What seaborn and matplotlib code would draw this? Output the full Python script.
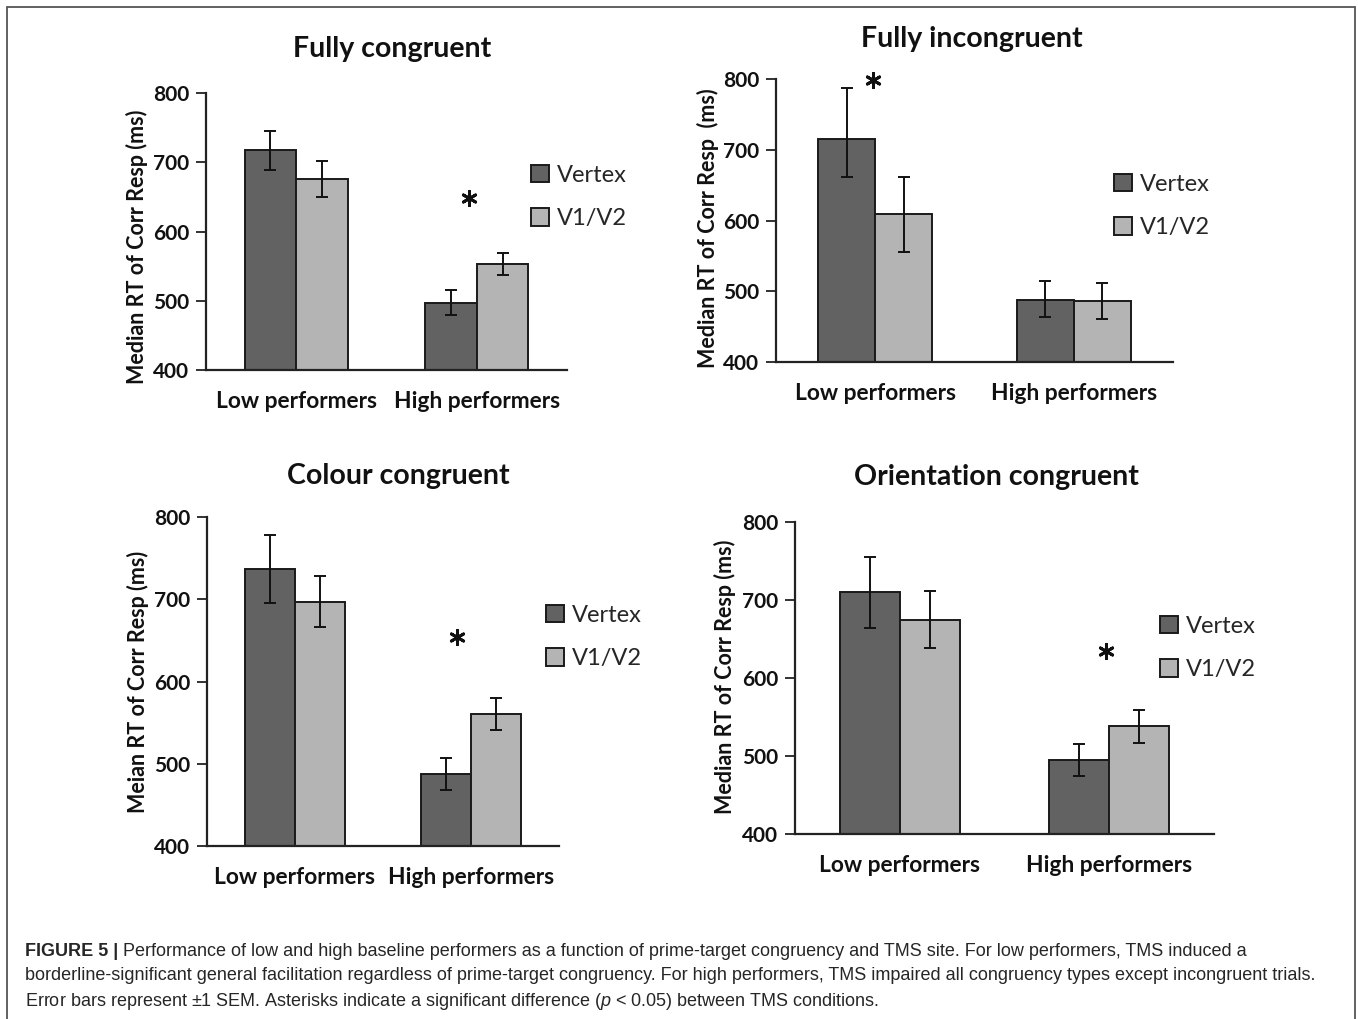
import matplotlib
matplotlib.use("Agg")
import matplotlib.pyplot as plt
import pandas as pd
import seaborn as sns
from matplotlib.patches import Rectangle

# ---- data -------------------------------------------------------------
groups = ["Low performers", "High performers"]
sites = ["Vertex", "V1/V2"]

titles = ["Fully congruent", "Fully incongruent",
          "Colour congruent", "Orientation congruent"]
ylabels = ["Median RT of Corr Resp (ms)", "Median RT of Corr Resp  (ms)",
           "Meian RT of Corr Resp (ms)", "Median RT of Corr Resp (ms)"]

# Fully congruent
fc_vertex = [717, 497]
fc_v1v2 = [676, 553]
fc_vertex_lo, fc_vertex_hi = [27.5, 18], [27.5, 18]
fc_v1v2_lo, fc_v1v2_hi = [26.5, 16.5], [26.5, 16.5]

# Fully incongruent
fi_vertex = [715, 488]
fi_v1v2 = [609, 486]
fi_vertex_lo, fi_vertex_hi = [53, 24], [72, 26]
fi_v1v2_lo, fi_v1v2_hi = [54, 25], [53, 25]

# Colour congruent
cc_vertex = [737, 487]
cc_v1v2 = [697, 560]
cc_vertex_lo, cc_vertex_hi = [41, 19.5], [41, 19.5]
cc_v1v2_lo, cc_v1v2_hi = [31, 19.5], [31, 19.5]

# Orientation congruent
oc_vertex = [710, 495]
oc_v1v2 = [675, 538]
oc_vertex_lo, oc_vertex_hi = [45.5, 21], [45.5, 21]
oc_v1v2_lo, oc_v1v2_hi = [37, 21], [37, 21]

# significance markers: group index and height (ms)
star_group = [1, 0, 1, 1]
star_rt = [648, 798, 654, 635]

yticks = [400, 500, 600, 700, 800]

caption_head = "FIGURE 5 |"
caption_lines = [
    " Performance of low and high baseline performers as a function of prime-target congruency and TMS site. For low performers, TMS induced a",
    "borderline-significant general facilitation regardless of prime-target congruency. For high performers, TMS impaired all congruency types except incongruent trials.",
    "Error bars represent \u00b11 SEM. Asterisks indicate a significant difference ($p$ < 0.05) between TMS conditions.",
]

panels = [
    (fc_vertex, fc_v1v2, fc_vertex_lo, fc_vertex_hi, fc_v1v2_lo, fc_v1v2_hi),
    (fi_vertex, fi_v1v2, fi_vertex_lo, fi_vertex_hi, fi_v1v2_lo, fi_v1v2_hi),
    (cc_vertex, cc_v1v2, cc_vertex_lo, cc_vertex_hi, cc_v1v2_lo, cc_v1v2_hi),
    (oc_vertex, oc_v1v2, oc_vertex_lo, oc_vertex_hi, oc_v1v2_lo, oc_v1v2_hi),
]

# ---- layout (pixels) --------------------------------------------------
W, H = 1358, 1019
axes_px = [(206, 93, 567, 370), (776, 79, 1173, 362),
           (207, 517, 559, 846), (795, 522, 1214, 834)]
title_px = [(392, 49), (972, 39), (398, 476), (996, 477)]
ylabel_px = [(137, 247), (708, 228), (138, 682), (725, 677)]
legend_px = [(531, 197), (1114, 206), (546, 637), (1160, 648)]
star_nudge = [-0.045, -0.01, -0.08, -0.015]

colors = {"Vertex": "#626262", "V1/V2": "#b4b4b4"}

sns.set_style("white")
chart_font = ["Lato", "DejaVu Sans"]
plt.rcParams["font.family"] = chart_font
plt.rcParams["mathtext.fontset"] = "custom"
plt.rcParams["mathtext.it"] = "Liberation Sans:italic"
plt.rcParams["mathtext.rm"] = "Liberation Sans"

fig = plt.figure(figsize=(W / 100, H / 100), dpi=100)


def fx(x):
    return x / W


def fy(y):
    return 1 - y / H


ink = "#111111"

for i, (vx, v1, vlo, vhi, v1lo, v1hi) in enumerate(panels):
    x0, y0, x1, y1 = axes_px[i]
    ax = fig.add_axes([fx(x0), fy(y1), (x1 - x0) / W, (y1 - y0) / H])

    df = pd.DataFrame({
        "group": groups * 2,
        "site": [sites[0]] * 2 + [sites[1]] * 2,
        "rt": vx + v1,
    })
    sns.barplot(data=df, x="group", y="rt", hue="site", order=groups,
                hue_order=sites, palette=colors, width=0.572,
                edgecolor="#1a1a1a", linewidth=1.4, errorbar=None,
                saturation=1, ax=ax)

    lows = [vlo, v1lo]
    highs = [vhi, v1hi]
    bar_sets = list(ax.containers)[:2]
    for k, cont in enumerate(bar_sets):
        xs = [b.get_x() + b.get_width() / 2 for b in cont]
        hs = [b.get_height() for b in cont]
        ax.errorbar(xs, hs, yerr=[lows[k], highs[k]], fmt="none",
                    ecolor=ink, elinewidth=1.4, capsize=4, capthick=1.4,
                    zorder=5)

    # significance asterisk
    ax.scatter([star_group[i] + star_nudge[i]], [star_rt[i]],
               marker=(6, 2, 0), s=105, linewidths=2.1, color=ink,
               zorder=6, clip_on=False)

    ax.set_xlim(-0.5, 1.5)
    ax.set_ylim(400, 800)
    ax.set_yticks(yticks)
    ax.set_xlabel("")
    ax.set_ylabel("")
    sns.despine(ax=ax)
    for s in ("left", "bottom"):
        ax.spines[s].set_color("#222222")
        ax.spines[s].set_linewidth(1.6)
    ax.tick_params(axis="y", length=7, width=1.3, color="#222222",
                   pad=5, labelsize=15, labelcolor=ink, left=True)
    ax.tick_params(axis="x", length=0, pad=15, labelsize=16.4,
                   labelcolor=ink)
    for lab in ax.get_xticklabels() + ax.get_yticklabels():
        lab.set_fontweight("bold")

    lx, ly = legend_px[i]
    handles, labels = ax.get_legend_handles_labels()
    ax.legend(handles, labels, loc="center left",
              bbox_to_anchor=(fx(lx), fy(ly)),
              bbox_transform=fig.transFigure, frameon=False,
              fontsize=17, handlelength=0.75, handleheight=0.75,
              handletextpad=0.35, labelspacing=0.95, borderpad=0,
              borderaxespad=0)

    tx, ty = title_px[i]
    fig.text(fx(tx), fy(ty), titles[i], ha="center", va="center",
             fontsize=20.5, fontweight="bold", color=ink)
    yx, yy = ylabel_px[i]
    fig.text(fx(yx), fy(yy), ylabels[i], ha="center", va="center",
             rotation=90, fontsize=15.5, fontweight="bold", color=ink)

# frame around the figure
fig.patches.append(Rectangle((fx(7), fy(1030)), (1355 - 7) / W, (1030 - 7) / H,
                             transform=fig.transFigure, fill=False,
                             edgecolor="#555555", linewidth=1.3))

# caption
cap_font = ["Liberation Sans Narrow", "Liberation Sans", "DejaVu Sans"]
cap_color = "#262626"
cap_size = 13
line_y = [951, 976, 1001]
head = fig.text(fx(25), fy(line_y[0]), caption_head, ha="left", va="center",
                fontsize=cap_size, fontweight="bold", family=cap_font,
                color=cap_color)
fig.canvas.draw()
bb = head.get_window_extent()
fig.text(bb.x1 / W, fy(line_y[0]), caption_lines[0], ha="left", va="center",
         fontsize=cap_size, family=cap_font, color=cap_color)
for j in (1, 2):
    fig.text(fx(25), fy(line_y[j]), caption_lines[j], ha="left", va="center",
             fontsize=cap_size, family=cap_font, color=cap_color)

fig.savefig("out.png", dpi=100)
